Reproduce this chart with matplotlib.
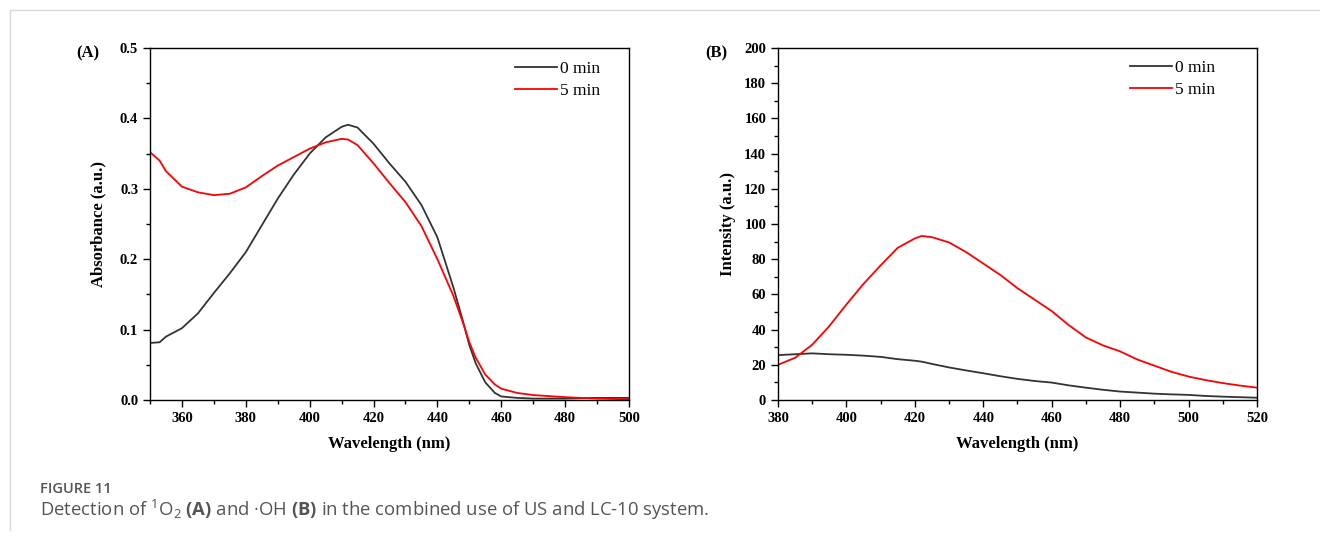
import matplotlib.pyplot as plt
from matplotlib.lines import Line2D
from matplotlib.ticker import MultipleLocator

plt.rcParams['font.family'] = ['Liberation Serif', 'DejaVu Serif']
plt.rcParams['mathtext.fontset'] = 'custom'
plt.rcParams['mathtext.rm'] = 'Open Sans'
plt.rcParams['mathtext.bf'] = 'Open Sans:bold'

# (A) absorbance spectra
wl_a = [350, 353, 355, 360, 365, 370, 375, 380, 385, 390, 395, 400, 405, 410,
        412, 415, 420, 425, 430, 435, 440, 445, 448, 450, 452, 455, 458, 460,
        465, 470, 480, 490, 500]
abs_0min = [0.081, 0.082, 0.090, 0.102, 0.123, 0.152, 0.180, 0.210, 0.248, 0.286,
            0.320, 0.350, 0.373, 0.388, 0.391, 0.387, 0.364, 0.336, 0.310, 0.277,
            0.231, 0.160, 0.112, 0.078, 0.052, 0.025, 0.010, 0.005, 0.003, 0.002,
            0.002, 0.003, 0.003]
abs_5min = [0.352, 0.340, 0.325, 0.303, 0.295, 0.291, 0.293, 0.302, 0.318, 0.333,
            0.345, 0.357, 0.366, 0.371, 0.370, 0.362, 0.336, 0.308, 0.281, 0.247,
            0.200, 0.148, 0.110, 0.082, 0.060, 0.036, 0.022, 0.016, 0.010, 0.007,
            0.004, 0.002, 0.001]

# (B) fluorescence spectra
wl_b = [380, 385, 390, 395, 400, 405, 410, 415, 420, 422, 425, 430, 435, 440,
        445, 450, 455, 460, 465, 470, 475, 480, 485, 490, 495, 500, 505, 510,
        515, 520]
int_0min = [25.5, 26.0, 26.5, 26.0, 25.7, 25.2, 24.5, 23.2, 22.3, 21.8, 20.5, 18.5,
            16.8, 15.2, 13.5, 12.0, 10.8, 9.9, 8.3, 7.0, 5.8, 4.8, 4.2, 3.6,
            3.2, 2.9, 2.3, 1.9, 1.6, 1.3]
int_5min = [20.0, 24.0, 31.4, 42.0, 54.3, 66.0, 76.5, 86.5, 91.8, 93.2, 92.5, 89.5,
            84.0, 77.5, 71.0, 63.5, 57.0, 50.5, 42.5, 35.5, 31.0, 27.6, 23.0, 19.5,
            16.0, 13.3, 11.3, 9.6, 8.2, 7.0]

W, H = 1320, 541
fig = plt.figure(figsize=(W / 100, H / 100), dpi=100)

ax1 = fig.add_axes([150 / W, 1 - 400 / H, 479 / W, 352 / H])
ax2 = fig.add_axes([778 / W, 1 - 400 / H, 479 / W, 352 / H])

ax1.plot(wl_a, abs_0min, color='#333333', lw=1.3, label='0 min')
ax1.plot(wl_a, abs_5min, color='#ff0000', lw=1.3, label='5 min')
ax1.set_xlim(350, 500)
ax1.set_ylim(0, 0.5)
ax1.xaxis.set_minor_locator(MultipleLocator(10))
ax1.yaxis.set_major_locator(MultipleLocator(0.1))
ax1.yaxis.set_minor_locator(MultipleLocator(0.05))
ax1.set_xticks([360, 380, 400, 420, 440, 460, 480, 500])
ax1.yaxis.set_major_formatter(plt.FormatStrFormatter('%.1f'))
ax1.set_xlabel('Wavelength (nm)', fontsize=12, fontweight='bold', labelpad=8)
ax1.set_ylabel('Absorbance (a.u.)', fontsize=12, fontweight='bold', labelpad=10)

ax2.plot(wl_b, int_0min, color='#333333', lw=1.3, label='0 min')
ax2.plot(wl_b, int_5min, color='#ff0000', lw=1.3, label='5 min')
ax2.set_xlim(380, 520)
ax2.set_ylim(0, 200)
ax2.xaxis.set_major_locator(MultipleLocator(20))
ax2.xaxis.set_minor_locator(MultipleLocator(10))
ax2.yaxis.set_major_locator(MultipleLocator(20))
ax2.yaxis.set_minor_locator(MultipleLocator(10))
ax2.set_xlabel('Wavelength (nm)', fontsize=12, fontweight='bold', labelpad=8)
ax2.set_ylabel('Intensity (a.u.)', fontsize=12, fontweight='bold', labelpad=6)

for ax, anchor in ((ax1, (0.939, 0.963)), (ax2, (0.912, 0.966))):
    ax.tick_params(which='major', direction='out', length=5, width=1, labelsize=10.5)
    ax.tick_params(which='minor', direction='out', length=3, width=1)
    for lab in ax.get_xticklabels() + ax.get_yticklabels():
        lab.set_fontweight('bold')
    for sp in ax.spines.values():
        sp.set_linewidth(1)
    ax.legend(loc='upper right', bbox_to_anchor=anchor, frameon=False, fontsize=12.5,
              handlelength=2.4, handletextpad=0.15, labelspacing=0.35,
              borderaxespad=0, borderpad=0)

fig.text(88 / W, 1 - 53 / H, '(A)', fontsize=12, fontweight='bold', ha='center', va='center')
fig.text(716 / W, 1 - 53 / H, '(B)', fontsize=12, fontweight='bold', ha='center', va='center')

# page frame and caption
fig.add_artist(Line2D([10 / W, 1], [1 - 10 / H, 1 - 10 / H], color='#d8d8d8', lw=1))
fig.add_artist(Line2D([10 / W, 10 / W], [1 - 10 / H, 1 - 530 / H], color='#d8d8d8', lw=1))
fig.text(40 / W, 1 - 489 / H, 'FIGURE 11', fontsize=10.5, color='#555555',
         family='Open Sans', fontweight='semibold', va='center')
fig.text(40 / W, 1 - 510 / H,
         r'Detection of $^{1}$O$_{2}$ $\mathbf{(A)}$ and ·OH $\mathbf{(B)}$ in the combined use of US and LC-10 system.',
         fontsize=13.3, color='#555555', family='Open Sans', va='center')

fig.savefig('out.png', dpi=100)
